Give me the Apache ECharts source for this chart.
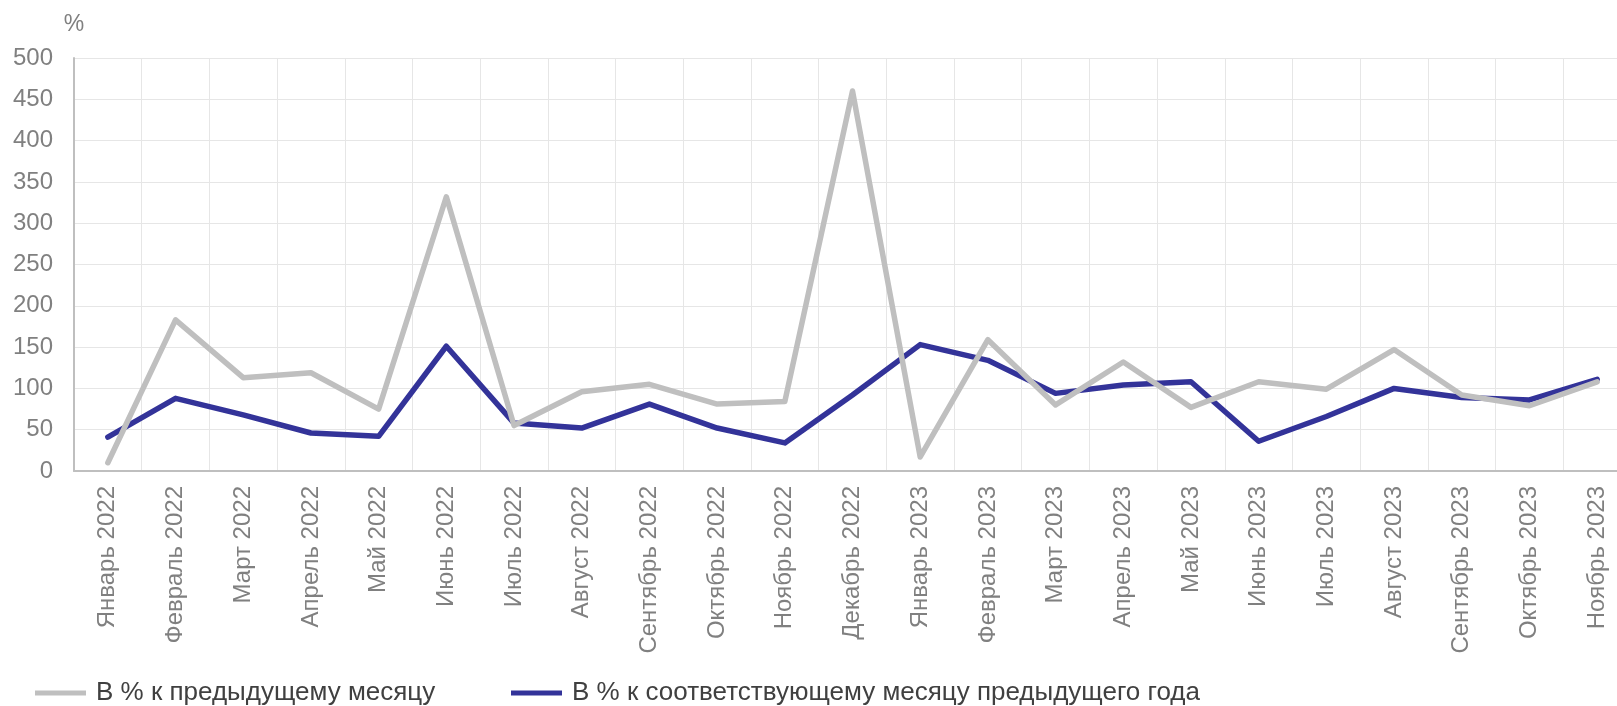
<!DOCTYPE html>
<html>
<head>
<meta charset="utf-8">
<script src="https://cdn.jsdelivr.net/npm/echarts@6/dist/echarts.min.js"></script>
<style>
  html, body { margin: 0; padding: 0; background: #fff; }
  #chart { width: 1617px; height: 706px; }
</style>
</head>
<body>
<div id="chart"></div>
<script>
// месяцы
var months = [
  "Январь 2022", "Февраль 2022", "Март 2022", "Апрель 2022", "Май 2022", "Июнь 2022",
  "Июль 2022", "Август 2022", "Сентябрь 2022", "Октябрь 2022", "Ноябрь 2022", "Декабрь 2022",
  "Январь 2023", "Февраль 2023", "Март 2023", "Апрель 2023", "Май 2023", "Июнь 2023",
  "Июль 2023", "Август 2023", "Сентябрь 2023", "Октябрь 2023", "Ноябрь 2023"
];
var seriesNames = ["В % к предыдущему месяцу", "В % к соответствующему месяцу предыдущего года"];
// В % к предыдущему месяцу
var prevMonth = [10, 183, 113, 119, 75, 332, 55, 96, 105, 81, 84, 460,
  17, 159, 80, 132, 77, 108, 99, 147, 92, 79, 108];
// В % к соответствующему месяцу предыдущего года
var prevYear = [41, 88, 68, 46, 42, 151, 58, 52, 81, 52, 34, 92,
  153, 134, 94, 104, 108, 36, 66, 100, 89, 86, 111];

var font = "'Liberation Sans', Arial, sans-serif";
var legendText = {
  fontFamily: font,
  fontSize: 26,
  color: "#404040",
  padding: [0, 0, 0, 5]
};

var chart = echarts.init(document.getElementById("chart"));
var option = {
  animation: false,
  color: ["#bfbfbf", "#333399"],
  grid: {
    left: 74,
    width: 1557, // правый край уходит за кадр, как в оригинале
    top: 58,
    bottom: 235,
    outerBoundsMode: "none"
  },
  legend: [
    {
      top: 675,
      left: 30,
      icon: "rect",
      itemWidth: 51,
      itemHeight: 5,
      textStyle: legendText,
      data: [seriesNames[0]]
    },
    {
      top: 675,
      left: 506,
      icon: "rect",
      itemWidth: 51,
      itemHeight: 5,
      textStyle: legendText,
      data: [seriesNames[1]]
    }
  ],
  xAxis: {
    type: "category",
    data: months,
    boundaryGap: true,
    axisLine: { lineStyle: { color: "#bfbfbf", width: 2 } },
    axisTick: { show: false },
    splitLine: { show: true, lineStyle: { color: "#e6e6e6", width: 1 } },
    axisLabel: {
      rotate: 90,
      interval: 0,
      margin: 15,
      fontFamily: font,
      fontSize: 24,
      color: "#808080"
    }
  },
  yAxis: {
    type: "value",
    min: 0,
    max: 500,
    interval: 50,
    name: "%",
    nameGap: 22,
    nameTextStyle: {
      fontFamily: font,
      fontSize: 23,
      color: "#808080"
    },
    axisLine: { show: true, lineStyle: { color: "#bfbfbf", width: 2 } },
    axisTick: { show: false },
    splitLine: { lineStyle: { color: "#e6e6e6", width: 1 } },
    axisLabel: {
      margin: 21,
      fontFamily: font,
      fontSize: 24,
      color: "#808080"
    }
  },
  series: [
    {
      name: seriesNames[0],
      type: "line",
      data: prevMonth,
      symbol: "none",
      lineStyle: { width: 5.5, color: "#bfbfbf", cap: "round", join: "round" },
      z: 2
    },
    {
      name: seriesNames[1],
      type: "line",
      data: prevYear,
      symbol: "none",
      lineStyle: { width: 5.5, color: "#333399", cap: "round", join: "round" },
      z: 1
    }
  ]
};
chart.setOption(option);
</script>
</body>
</html>
